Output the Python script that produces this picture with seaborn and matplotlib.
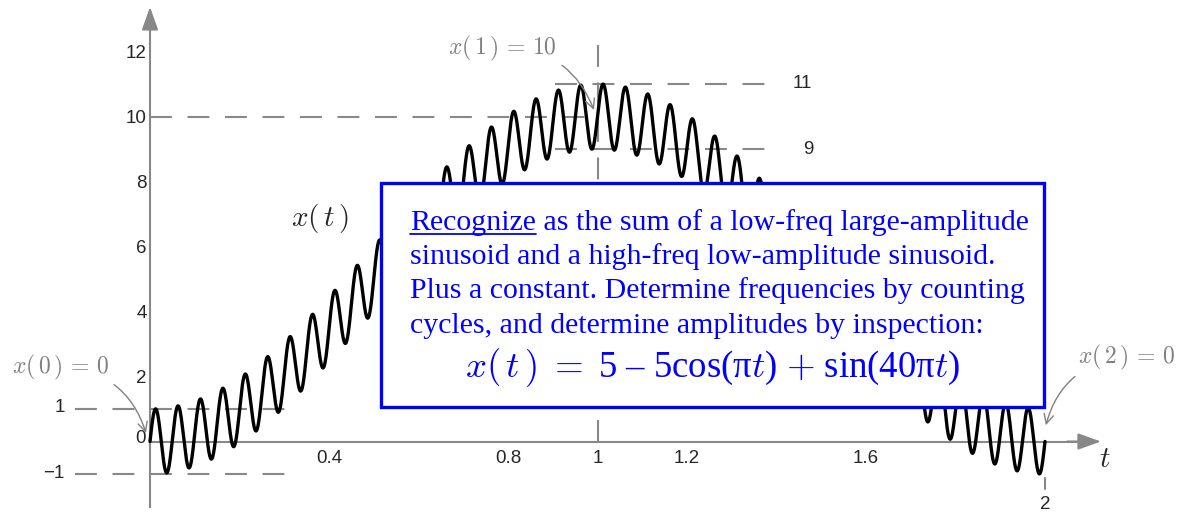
import numpy as np
import matplotlib
matplotlib.use("Agg")
import matplotlib.pyplot as plt
from matplotlib.patches import Rectangle
import seaborn as sns

# signal parameters: x(t) = 5 - 5cos(pi t) + sin(40 pi t)
offset = 5.0
slow_amp = 5.0
slow_freq = 0.5
fast_amp = 1.0
fast_freq = 20.0
t_end = 2.0

x_ticks = [0.2, 0.4, 0.6, 0.8, 1.0, 1.2, 1.4, 1.6, 1.8]
x_ticklabels = ['', '0.4', '', '0.8', '1', '1.2', '', '1.6', '']
y_ticks = [2, 4, 6, 8, 10, 12]

box_lines = [
    'as the sum of a low-freq large-amplitude',
    'sinusoid and a high-freq low-amplitude sinusoid.',
    'Plus a constant. Determine frequencies by counting',
    'cycles, and determine amplitudes by inspection:',
]

t = np.linspace(0, t_end, 4001)
x = offset - slow_amp * np.cos(2 * np.pi * slow_freq * t) + fast_amp * np.sin(2 * np.pi * fast_freq * t)

sns.set_style('white')
plt.rcParams['mathtext.fontset'] = 'cm'
plt.rcParams['font.family'] = ['Liberation Sans', 'DejaVu Sans']

fig = plt.figure(figsize=(11.81, 5.13), dpi=100)
ax = fig.add_axes([0, 0, 1, 1])
ax.set_xlim(-150 / 447.5, 1031 / 447.5)
ax.set_ylim(-71.5 / 32.5, 441.5 / 32.5)

gray = '#888888'
agray = '#808080'
blue = '#0000ff'
fs = 13.5

# axes through origin
for s in ['top', 'right']:
    ax.spines[s].set_visible(False)
ax.spines['left'].set_position(('data', 0))
ax.spines['bottom'].set_position(('data', 0))
ax.spines['left'].set_bounds(-2.03, 12.8)
ax.spines['bottom'].set_bounds(0, 2.09)
for s in ['left', 'bottom']:
    ax.spines[s].set_color(gray)
    ax.spines[s].set_linewidth(1.5)
ax.annotate('', xy=(0, 13.37), xytext=(0, 12.6),
            arrowprops=dict(arrowstyle='-|>,head_length=1.4,head_width=0.5', color=gray, lw=1.5, shrinkA=0, shrinkB=0))
ax.annotate('', xy=(2.125, 0), xytext=(2.05, 0),
            arrowprops=dict(arrowstyle='-|>,head_length=1.4,head_width=0.5', color=gray, lw=1.5, shrinkA=0, shrinkB=0))

ax.set_xticks(x_ticks)
ax.set_xticklabels(x_ticklabels)
ax.set_yticks(y_ticks)
ax.tick_params(axis='x', direction='in', length=5, width=1.5, color=gray, pad=6, labelsize=fs)
ax.tick_params(axis='y', direction='in', length=8.6, width=1.5, color=gray, pad=2.5, labelsize=fs)

# dashed guides
dash = dict(color=gray, lw=1.5, dashes=(10.5, 7.5), zorder=1)
ax.plot([0, 1], [10, 10], **dash)
ax.plot([0.905, 1.405], [11, 11], **dash)
ax.plot([0.905, 1.405], [9, 9], **dash)
ax.plot([1, 1], [12.2, 0], **dash)
ax.plot([-0.168, 0.335], [1, 1], **dash)
ax.plot([-0.168, 0.335], [-1, -1], **dash)
ax.plot([2, 2], [-1.12, -1.46], color=gray, lw=1.5, zorder=1)

ax.text(-0.009, 0.1, '0', ha='right', va='center', fontsize=fs)
ax.text(-0.19, 1.05, '1', ha='right', va='center', fontsize=fs)
ax.text(-0.19, -0.97, '\u22121', ha='right', va='center', fontsize=fs)
ax.text(1.437, 11, '11', ha='left', va='center', fontsize=fs)
ax.text(1.46, 9, '9', ha='left', va='center', fontsize=fs)
ax.text(2, -1.95, '2', ha='center', va='center', fontsize=fs)

sns.lineplot(x=t, y=x, ax=ax, color='black', lw=2.4, zorder=3)

ax.text(0.38, 6.86, r'$x(\,t\,)$', fontsize=21, ha='center', va='center')
ax.text(2.134, -0.55, r'$t$', fontsize=21, ha='center', va='center')

# annotations
ax.annotate(r'$x(\,1\,)\,=\,10$', xy=(0.992, 10.2), xytext=(0.787, 12.1), fontsize=17, color=agray,
            ha='center', va='center',
            arrowprops=dict(arrowstyle='->', color=agray, lw=1, connectionstyle='arc3,rad=-0.35', shrinkA=2, shrinkB=0))
ax.annotate(r'$x(\,0\,)\,=\,0$', xy=(-0.009, 0.26), xytext=(-0.201, 2.29), fontsize=17, color=agray,
            ha='center', va='center',
            arrowprops=dict(arrowstyle='->', color=agray, lw=1, connectionstyle='arc3,rad=-0.35', shrinkA=2, shrinkB=0))
ax.annotate(r'$x(\,2\,)\,=\,0$', xy=(2.002, 0.5), xytext=(2.183, 2.6), fontsize=17, color=agray,
            ha='center', va='center',
            arrowprops=dict(arrowstyle='->', color=agray, lw=1, connectionstyle='arc3,rad=0.35', shrinkA=2, shrinkB=0))

# explanation box
ax.add_patch(Rectangle((0.516, 1.06), 1.482, 6.89, facecolor='white', edgecolor=blue, lw=2.4, zorder=5))
serif = ['Liberation Serif', 'DejaVu Serif']
bfs = 21.5
fig.canvas.draw()
renderer = fig.canvas.get_renderer()
x0 = 0.581
baselines = [6.51, 5.46, 4.415, 3.34]
word = ax.text(x0, baselines[0], 'Recognize', fontsize=bfs, family=serif, color=blue, va='baseline', zorder=6)
bb = word.get_window_extent(renderer)
inv = ax.transData.inverted()
(ux0, uy), (ux1, _) = inv.transform([(bb.x0, bb.y0 + 1), (bb.x1, bb.y0 + 1)])
ax.plot([ux0, ux1], [baselines[0] - 0.12, baselines[0] - 0.12], color=blue, lw=1.3, zorder=6)
ax.text(ux1, baselines[0], ' ' + box_lines[0], fontsize=bfs, family=serif, color=blue, va='baseline', zorder=6)
for line, yb in zip(box_lines[1:], baselines[1:]):
    ax.text(x0, yb, line, fontsize=bfs, family=serif, color=blue, va='baseline', zorder=6)
ax.text(1.257, 1.985, r'$x(\,t\,)\;=\;$5 – 5cos(π$t$) $+$ sin(40π$t$)', fontsize=26.5, family=serif,
        color=blue, ha='center', va='baseline', zorder=6)

fig.savefig('out.png', dpi=100)
